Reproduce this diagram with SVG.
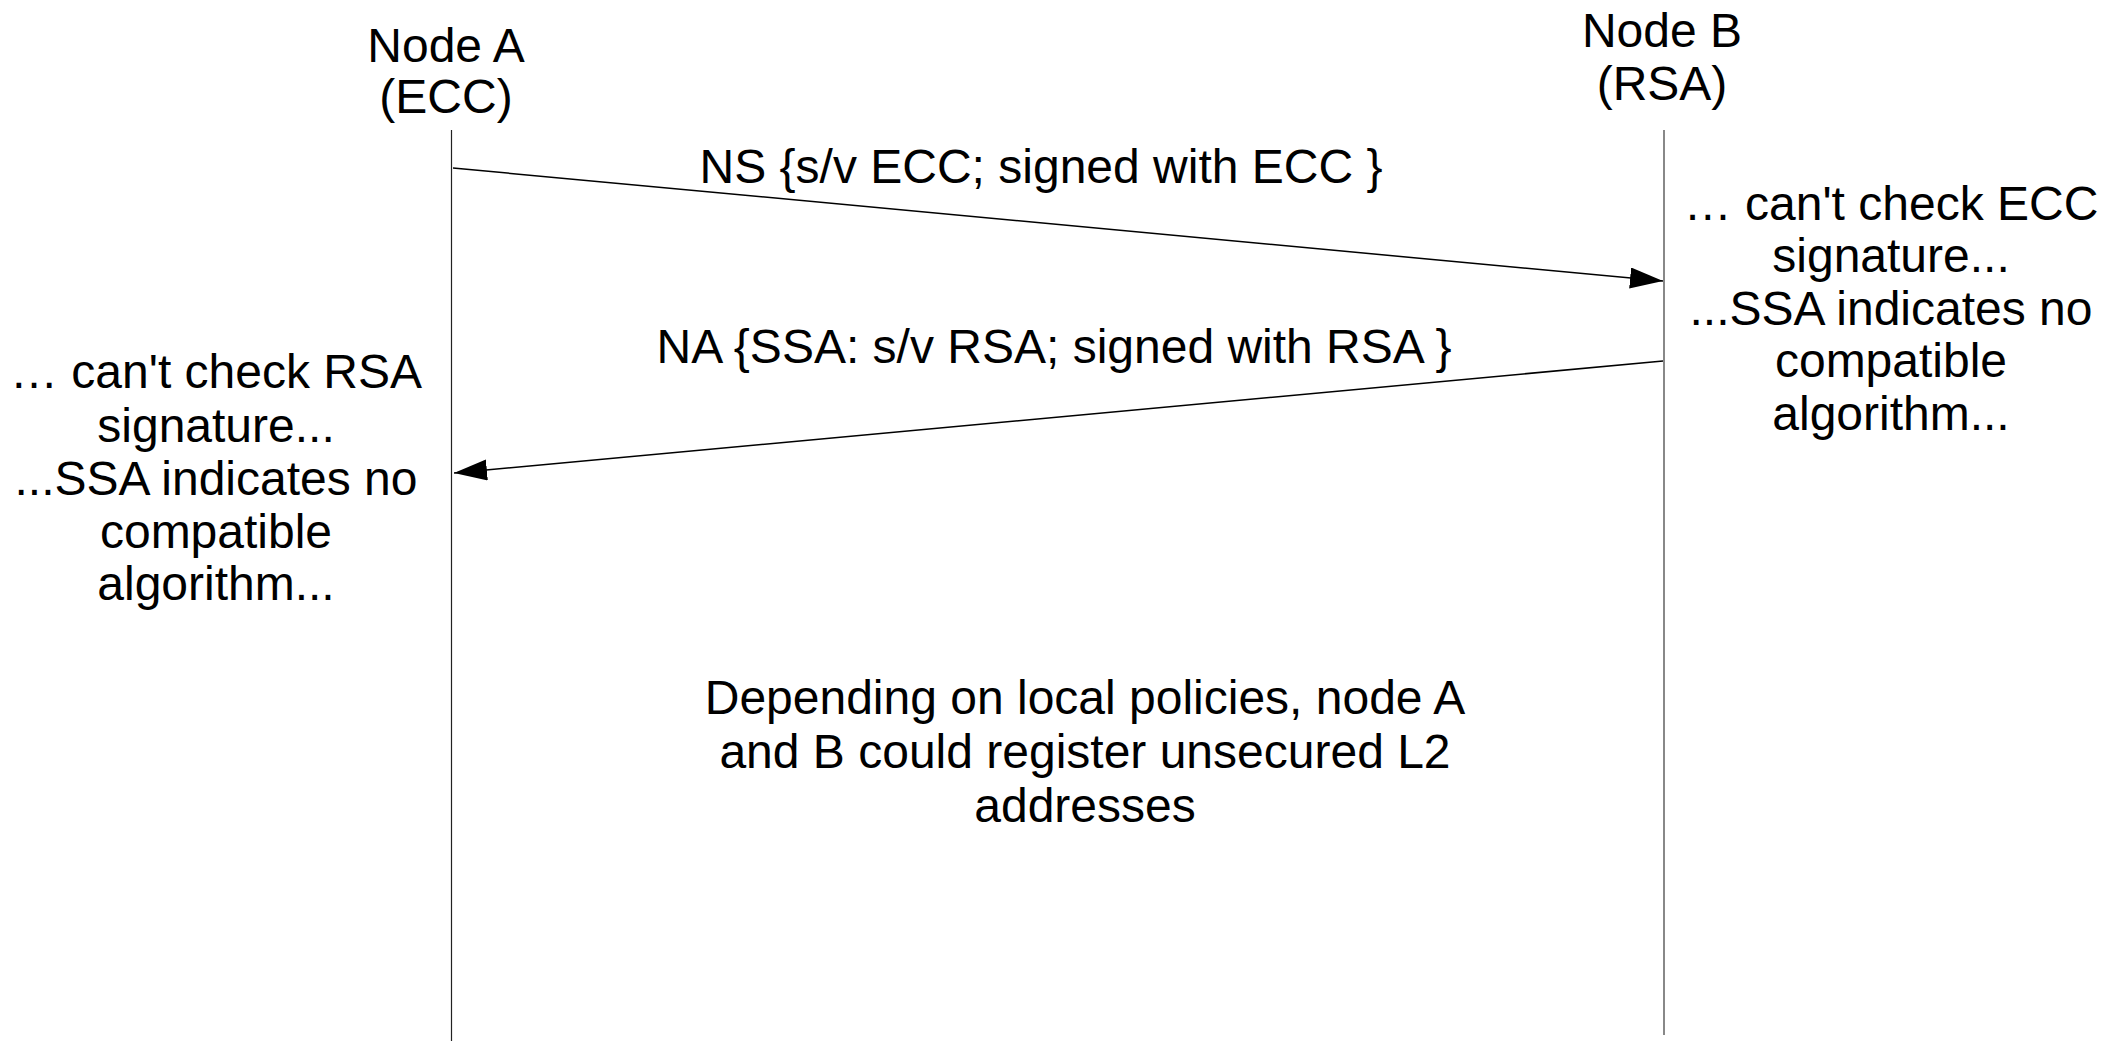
<svg xmlns="http://www.w3.org/2000/svg" width="2104" height="1041" viewBox="0 0 2104 1041">
<style>
text{font-family:"Liberation Sans",Arial,sans-serif;font-size:48px;fill:#000;text-anchor:middle}
.msg{stroke:#000;stroke-width:1.5;fill:none}
</style>
<defs>
<marker id="ah" markerUnits="userSpaceOnUse" markerWidth="34" markerHeight="22" refX="33" refY="10.5" orient="auto">
<path d="M0,0 L33,10.5 L0,21 Z" fill="#000"/>
</marker>
</defs>
<rect width="2104" height="1041" fill="#fff"/>
<g id="nodeA">
<text x="446" y="62">Node A</text>
<text x="446" y="113">(ECC)</text>
<line x1="451.5" y1="130" x2="451.5" y2="1041" stroke="#222" stroke-width="1.2"/>
</g>
<g id="nodeB">
<text x="1662" y="47">Node B</text>
<text x="1662" y="100">(RSA)</text>
<line x1="1664" y1="130" x2="1664" y2="1035" stroke="#888" stroke-width="2"/>
</g>
<g id="connectors">
<line class="msg" x1="453" y1="168" x2="1663" y2="281" marker-end="url(#ah)"/>
<line class="msg" x1="1663" y1="361" x2="454" y2="473" marker-end="url(#ah)"/>
</g>
<g id="labelNS"><text x="1041" y="183">NS {s/v ECC; signed with ECC }</text></g>
<g id="labelNA"><text x="1054" y="363">NA {SSA: s/v RSA; signed with RSA }</text></g>
<g id="noteA">
<text x="216" y="388">… can't check RSA</text>
<text x="216" y="442">signature...</text>
<text x="216" y="495">...SSA indicates no</text>
<text x="216" y="548">compatible</text>
<text x="216" y="600">algorithm...</text>
</g>
<g id="noteB">
<text x="1891" y="220">… can't check ECC</text>
<text x="1891" y="272">signature...</text>
<text x="1891" y="325">...SSA indicates no</text>
<text x="1891" y="377">compatible</text>
<text x="1891" y="430">algorithm...</text>
</g>
<g id="noteBottom">
<text x="1085" y="714">Depending on local policies, node A</text>
<text x="1085" y="768">and B could register unsecured L2</text>
<text x="1085" y="822">addresses</text>
</g>
</svg>
